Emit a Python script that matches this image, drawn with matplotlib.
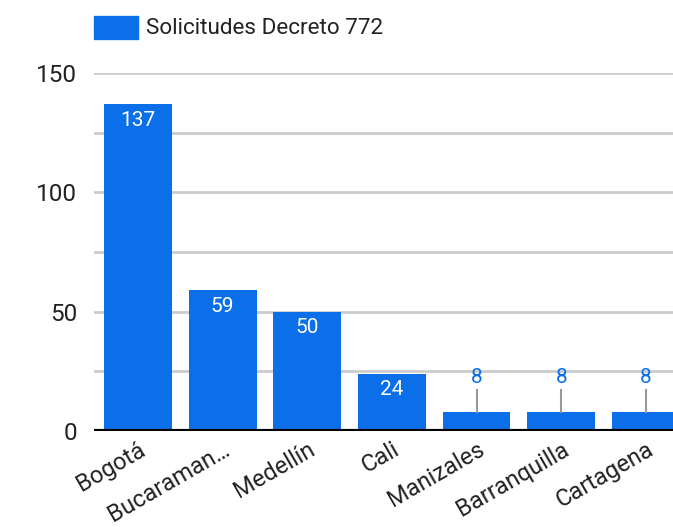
import matplotlib.pyplot as plt

plt.rcParams["font.family"] = ["Roboto", "DejaVu Sans"]

ciudades = ["Bogotá", "Bucaraman…", "Medellín", "Cali", "Manizales", "Barranquilla", "Cartagena"]
solicitudes = [137, 59, 50, 24, 8, 8, 8]
serie = "Solicitudes Decreto 772"

azul = "#0a6fe8"

fig = plt.figure(figsize=(6.73, 5.27), dpi=100)
ax = fig.add_axes([94 / 673, 1 - 431 / 527, 1 - 94 / 673, (431 - 73) / 527])

x = list(range(len(ciudades)))
ax.bar(x, solicitudes, width=0.8, color=azul, zorder=3)

ax.set_ylim(0, 150)
ax.set_xlim(-0.52, 6.32)

# gridlines major and minor
for v in [25, 50, 75, 100, 125, 150]:
    ax.axhline(v, color="#cccccc", lw=2, zorder=1)
ax.axhline(0, color="black", lw=3, zorder=4)

ax.set_yticks([0, 50, 100, 150])
ax.set_yticklabels(["0", "50", "100", "150"], fontsize=17.5, color="#222222")
ax.set_xticks(x)
ax.set_xticklabels(ciudades, rotation=30, ha="right", rotation_mode="anchor",
                   fontsize=17, color="#222222")
ax.tick_params(length=0, pad=12)
ax.tick_params(axis="x", pad=5)
for s in ax.spines.values():
    s.set_visible(False)

# data labels
px_per_unit = (431 - 73) / 150
for xi, v in zip(x, solicitudes):
    if v > 15:
        ax.text(xi, v - 16 / px_per_unit, str(v), ha="center", va="center",
                color="white", fontsize=15, zorder=5)
    else:
        ax.plot([xi, xi], [v, v + 22 / px_per_unit], color="#999999", lw=1.5, zorder=5)
        ax.text(xi, v + 34 / px_per_unit, str(v), ha="center", va="center",
                color=azul, fontsize=15, zorder=5)

# legend
fig.patches.append(plt.Rectangle((94 / 673, 1 - 39 / 527), 44 / 673, 23 / 527,
                                 transform=fig.transFigure, color=azul))
fig.text(146 / 673, 1 - 28 / 527, serie, ha="left", va="center", fontsize=16.2,
         color="#222222")

fig.savefig("out.png", dpi=100)
